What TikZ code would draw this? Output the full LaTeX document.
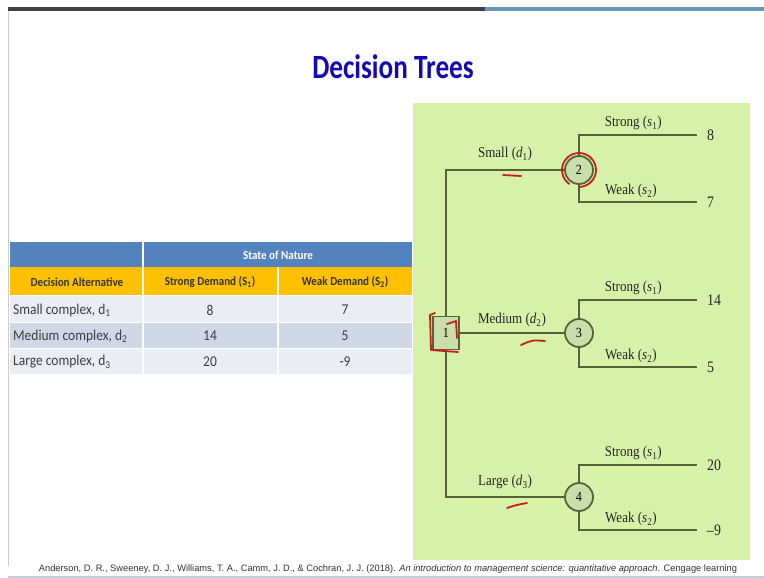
\documentclass[tikz,border=0pt]{standalone}
\usepackage{fontspec}
\setmainfont{Liberation Serif}
\newfontfamily\slidefont{Carlito}[FakeStretch=0.8]
\newfontfamily\tablefont{Carlito}[FakeStretch=0.9]
\newfontfamily\treefont{Liberation Serif}[FakeStretch=0.87]
\newfontfamily\citefont{Liberation Sans}
\usepackage{tikz}
\usetikzlibrary{positioning, calc}

\definecolor{panelgreen}{RGB}{216,241,168}
\definecolor{treeline}{RGB}{86,98,58}
\definecolor{nodefill}{RGB}{202,222,172}
\definecolor{titleblue}{RGB}{18,10,178}
\definecolor{headblue}{RGB}{84,130,190}
\definecolor{headgold}{RGB}{255,192,0}
\definecolor{rowlight}{RGB}{234,237,244}
\definecolor{rowdark}{RGB}{208,215,231}
\definecolor{celltext}{RGB}{62,62,62}
\definecolor{stripdark}{RGB}{62,64,74}
\definecolor{stripblue}{RGB}{104,150,184}
\definecolor{annotred}{RGB}{200,30,30}

\begin{document}
\begin{tikzpicture}[
            x=1pt, y=-1pt,
            chance/.style={circle, draw=treeline, line width=1.8pt, fill=nodefill, minimum size=28pt, inner sep=0pt, font=\treefont\fontsize{14}{14}\selectfont},
            decision/.style={rectangle, draw=treeline, line width=1.8pt, fill=nodefill, minimum width=26pt, minimum height=33pt, inner sep=0pt, font=\treefont\fontsize{14}{14}\selectfont},
            branch/.style={draw=treeline, line width=1.8pt},
            lbl/.style={font=\treefont\fontsize{15}{15}\selectfont, text=black!85, inner sep=2pt},
            payoff/.style={anchor=west, inner xsep=10pt, font=\treefont\fontsize{16}{16}\selectfont, text=black!85},
            cell/.style={font=\tablefont\fontsize{15}{15}\selectfont, text=celltext, inner sep=1pt},
            headcell/.style={font=\tablefont\bfseries\fontsize{12.3}{12.3}\selectfont, text=black!80, inner sep=1pt},
            redmark/.style={draw=annotred, line width=1.8pt, line cap=round, line join=round}
        ]
        \useasboundingbox (0,0) rectangle (764,578);
        \fill[white] (0,0) rectangle (764,578);

        % --- Slide frame ---
        \fill[stripdark] (8,7) rectangle (485,11);
        \fill[stripblue] (485,7) rectangle (764,11);
        \draw[black!20] (8,11) -- (8,566);
        \fill[stripblue!45] (8,576) rectangle (764,578);

        % --- Title ---
        \node[font=\slidefont\bfseries\fontsize{34}{34}\selectfont, text=titleblue] (title) at (393,67) {Decision Trees};

        % --- Payoff table ---
        \fill[headblue] (10,242) rectangle (412,267);
        \fill[headgold] (10,267) rectangle (412,295);
        \fill[rowlight] (10,295) rectangle (412,322);
        \fill[rowdark] (10,322) rectangle (412,348);
        \fill[rowlight] (10,348) rectangle (412,374);
        \draw[white, line width=1.2pt] (143,242) -- (143,374);
        \draw[white, line width=1.2pt] (278,267) -- (278,374);
        \draw[white, line width=0.8pt] (10,295) -- (412,295);
        \draw[white, line width=0.8pt] (10,322) -- (412,322);
        \draw[white, line width=0.8pt] (10,348) -- (412,348);

        \node[headcell, text=white] (nature) at (278,255) {State of Nature};
        \node[headcell] (alt) at (77,282) {Decision Alternative};
        \node[headcell] (strongdem) at (210,282) {Strong Demand (S\textsubscript{1})};
        \node[headcell] (weakdem) at (345,282) {Weak Demand (S\textsubscript{2})};

        \node[cell, anchor=west] (small_t) at (12,310) {Small complex, d\textsubscript{1}};
        \node[cell] (small_s) at (210,310) {8};
        \node[cell] (small_w) at (345,310) {7};
        \node[cell, anchor=west] (medium_t) at (12,336) {Medium complex, d\textsubscript{2}};
        \node[cell] (medium_s) at (210,336) {14};
        \node[cell] (medium_w) at (345,336) {5};
        \node[cell, anchor=west] (large_t) at (12,362) {Large complex, d\textsubscript{3}};
        \node[cell] (large_s) at (210,362) {20};
        \node[cell] (large_w) at (345,362) {-9};

        % --- Tree panel ---
        \fill[panelgreen] (413,103) rectangle (750,560);

        \node[decision] (n1) at (446,333) {1};
        \node[chance] (n2) at (579,170) {2};
        \node[chance] (n3) at (579,333) {3};
        \node[chance] (n4) at (579,497) {4};

        \node[payoff] (p8) at (697,135) {8};
        \node[payoff] (p7) at (697,202) {7};
        \node[payoff] (p14) at (697,300) {14};
        \node[payoff] (p5) at (697,367) {5};
        \node[payoff] (p20) at (697,465) {20};
        \node[payoff] (pm9) at (697,530) {\textendash9};

        % --- Decision branches ---
        \draw[branch] (n1.north) |- node[lbl, above=6pt, pos=0.75] (l_small) {Small (\textit{d}\textsubscript{1})} (n2.west);
        \draw[branch] (n1.east) -- node[lbl, above=3pt] (l_medium) {Medium (\textit{d}\textsubscript{2})} (n3.west);
        \draw[branch] (n1.south) |- node[lbl, above=5pt, pos=0.75] (l_large) {Large (\textit{d}\textsubscript{3})} (n4.west);

        % --- State of nature branches ---
        \draw[branch] (n2.north) |- node[lbl, above=2pt, pos=0.73] (l_s21) {Strong (\textit{s}\textsubscript{1})} (p8.west);
        \draw[branch] (n2.south) |- node[lbl, above=1pt, pos=0.72] (l_s22) {Weak (\textit{s}\textsubscript{2})} (p7.west);
        \draw[branch] (n3.north) |- node[lbl, above=2pt, pos=0.73] (l_s31) {Strong (\textit{s}\textsubscript{1})} (p14.west);
        \draw[branch] (n3.south) |- node[lbl, above=1pt, pos=0.72] (l_s32) {Weak (\textit{s}\textsubscript{2})} (p5.west);
        \draw[branch] (n4.north) |- node[lbl, above=2pt, pos=0.73] (l_s41) {Strong (\textit{s}\textsubscript{1})} (p20.west);
        \draw[branch] (n4.south) |- node[lbl, above=1pt, pos=0.72] (l_s42) {Weak (\textit{s}\textsubscript{2})} (pm9.west);

        % --- Red pen marks ---
        \draw[redmark] (n2) ++(125:17) arc[start angle=125, end angle=450, radius=17];
        \draw[redmark] (435,313) -- (430,315) -- (431,350) -- (458,352);
        \draw[redmark] (447,324) -- (456,321) -- (457,338);
        \draw[redmark] (503,175) -- (521,176);
        \draw[redmark] (521,345) .. controls (532,340) .. (545,341);
        \draw[redmark] (507,508) .. controls (516,505) .. (527,503);

        % --- Source ---
        \node[font=\citefont\fontsize{9.3}{9.3}\selectfont, text=black!80] (source) at (388,569) {Anderson, D. R., Sweeney, D. J., Williams, T. A., Camm, J. D., \& Cochran, J. J. (2018). \textit{An introduction to management science: quantitative approach}. Cengage learning};

\end{tikzpicture}
\end{document}
